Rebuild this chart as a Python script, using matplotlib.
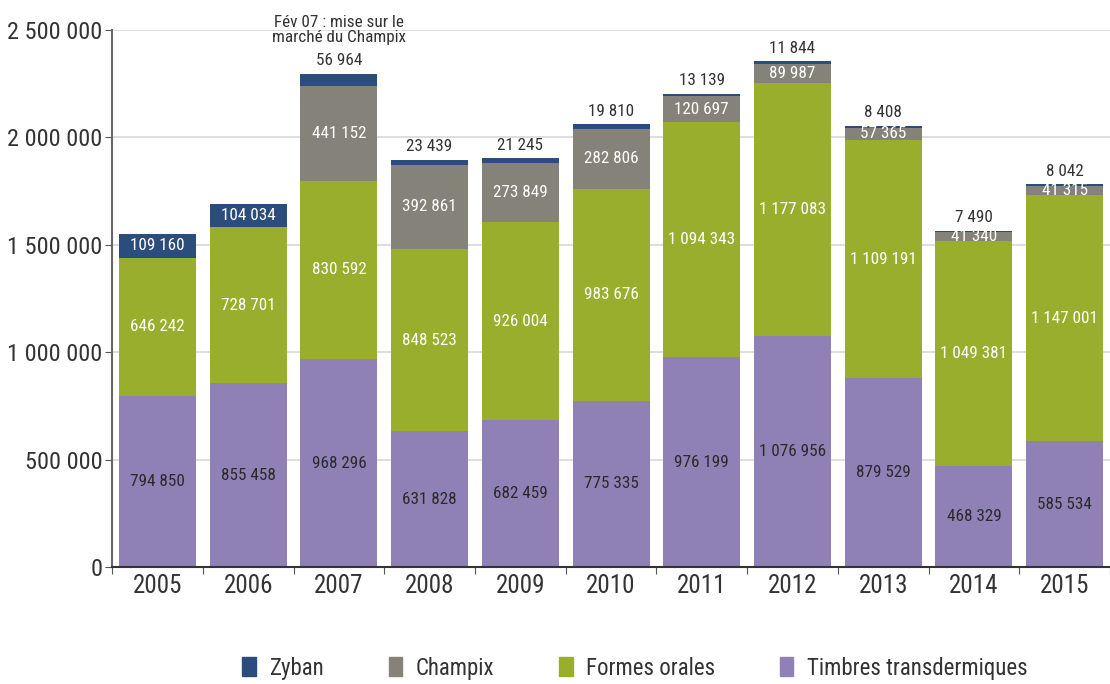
import numpy as np
import matplotlib.pyplot as plt
from matplotlib import font_manager
from matplotlib.patches import Patch

years = ['2005', '2006', '2007', '2008', '2009', '2010', '2011', '2012', '2013', '2014', '2015']
timbres = [794850, 855458, 968296, 631828, 682459, 775335, 976199, 1076956, 879529, 468329, 585534]
formes = [646242, 728701, 830592, 848523, 926004, 983676, 1094343, 1177083, 1109191, 1049381, 1147001]
champix = [0, 0, 441152, 392861, 273849, 282806, 120697, 89987, 57365, 41340, 41315]
zyban = [109160, 104034, 56964, 23439, 21245, 19810, 13139, 11844, 8408, 7490, 8042]
yticks = [0, 500000, 1000000, 1500000, 2000000, 2500000]

# pick a narrow font if one is installed
fl = font_manager.fontManager.ttflist
narrow = None
for nm in ['Liberation Sans Narrow', 'Roboto Condensed', 'Open Sans Condensed']:
    if any(f.name == nm for f in fl):
        narrow = nm
        break
stretch = 'normal'
if narrow is None:
    narrow = 'DejaVu Sans'
    if any(f.name == 'DejaVu Sans' and f.stretch == 'condensed' for f in fl):
        stretch = 'condensed'
        k = 1.0
    else:
        k = 0.75
else:
    k = 1.0
plt.rcParams['font.family'] = [narrow, 'DejaVu Sans']
plt.rcParams['font.stretch'] = stretch

def fmt(v):
    return f'{v:,}'.replace(',', ' ')

c_zy, c_ch, c_fo, c_ti = '#2b4d7e', '#858279', '#9aae2e', '#8f80b6'

fig = plt.figure(figsize=(11.1, 6.84), dpi=100)
ax = fig.add_axes([0.101, 0.171, 0.899, 0.785])
x = np.arange(len(years))
w = 0.85
timbres = np.array(timbres); formes = np.array(formes)
champix = np.array(champix); zyban = np.array(zyban)

ax.bar(x, timbres, w, color=c_ti, zorder=2)
ax.bar(x, formes, w, bottom=timbres, color=c_fo, zorder=2)
b2 = timbres + formes
ax.bar(x, champix, w, bottom=b2, color=c_ch, zorder=2)
b3 = b2 + champix
ax.bar(x, zyban, w, bottom=b3, color=c_zy, zorder=2)
top = b3 + zyban

fs = 12.3 * k
for i in x:
    ax.text(i, timbres[i] / 2, fmt(timbres[i]), ha='center', va='center', color='#2a2a2a', fontsize=fs, zorder=3)
    ax.text(i, timbres[i] + formes[i] / 2, fmt(formes[i]), ha='center', va='center', color='white', fontsize=fs, zorder=3)
    if champix[i] > 0:
        ax.text(i, b2[i] + champix[i] / 2, fmt(champix[i]), ha='center', va='center', color='white', fontsize=fs, zorder=3)
    if i < 2:
        ax.text(i, b3[i] + zyban[i] / 2, fmt(zyban[i]), ha='center', va='center', color='white', fontsize=fs, zorder=3)
    else:
        ax.text(i, top[i] + 25000, fmt(zyban[i]), ha='center', va='bottom', color='#333333', fontsize=fs, zorder=3)

ax.text(2, top[2] + 135000, 'Fév 07 : mise sur le\nmarché du Champix', ha='center', va='bottom',
        color='#333333', fontsize=12.3 * k, linespacing=1.0)

ax.set_xlim(-0.5, 10.5)
ax.set_ylim(0, 2500000)
ax.set_yticks(yticks)
ax.set_yticklabels([fmt(v) for v in yticks], fontsize=17.5 * k, color='#333333')
ax.set_xticks(np.arange(-0.5, 10.6, 1), minor=False)
ax.set_xticklabels([])
ax.set_xticks(x, minor=True)
ax.set_xticklabels(years, minor=True, fontsize=18 * k, color='#333333')
ax.tick_params(axis='x', which='minor', length=0, pad=5)
ax.tick_params(axis='x', which='major', length=5, color='#555555', direction='out')
ax.tick_params(axis='y', length=5, color='#555555', pad=2)
ax.grid(axis='y', color='#d8d8d8', linewidth=1.2, zorder=0)
for s in ['top', 'right']:
    ax.spines[s].set_visible(False)
ax.spines['left'].set_color('#666666')
ax.spines['left'].set_linewidth(1.5)
ax.spines['bottom'].set_color('#333333')
ax.spines['bottom'].set_linewidth(1.5)

handles = [Patch(color=c_zy), Patch(color=c_ch), Patch(color=c_fo), Patch(color=c_ti)]
fig.legend(handles, ['Zyban', 'Champix', 'Formes orales', 'Timbres transdermiques'],
           loc='center', bbox_to_anchor=(0.572, 0.023), ncol=4, frameon=False, fontsize=16.5 * k,
           handlelength=0.6, handleheight=0.9, handletextpad=0.6, columnspacing=2.8,
           labelcolor='#333333')

fig.savefig('out.png', dpi=100)
